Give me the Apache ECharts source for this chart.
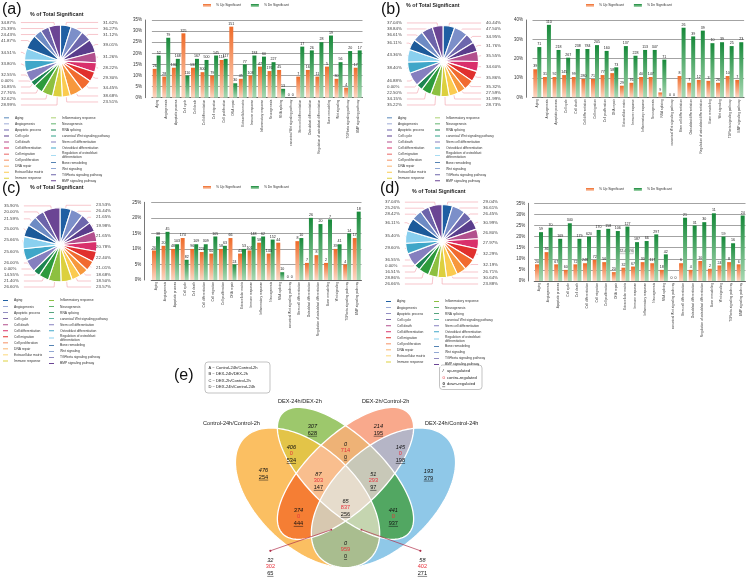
<!DOCTYPE html>
<html><head><meta charset="utf-8">
<script src="https://cdn.jsdelivr.net/npm/echarts@6/dist/echarts.min.js"></script>
<style>html,body{margin:0;padding:0;background:#fff}#c{width:752px;height:579px}</style>
</head><body><div id="c"></div>
<script>
// ---------------- DATA ----------------
const categories = ['Aging','Angiogenesis','Apoptotic process','Cell cycle','Cell death','Cell differentiation','Cell migration','Cell proliferation','DNA repair','Extracellular matrix','Immune response','Inflammatory response','Neurogenesis','RNA splicing','canonical Wnt signaling pathway','Stem cell differentiation','Osteoblast differentiation','Regulation of osteoblast differentiation','Bone remodeling','Wnt signaling','TGFbeta signaling pathway','BMP signaling pathway'];
const seriesNames = ['% Up Significant', '% Dn Significant'];

// panel (a)
const upPctA = [13, 9.5, 13.5, 29, 13.5, 11.5, 10, 17, 32, 8.5, 10, 14, 12, 12.5, 0, 9.5, 12.5, 9.5, 14, 8.5, 4.5, 13.5];
const dnPctA = [19, 27, 17.5, 10, 17.5, 17, 19, 17.5, 6.5, 15, 19, 18.5, 16, 4, 0, 23, 21.3, 25, 28, 16, 21, 21.3];
const upCntA = [26, 28, 130, 325, 137, 300, 79, 114, 151, 45, 103, 47, 176, 45, 0, 7, 16, 11, 5, 30, 4, 17];
const dnCntA = [52, 79, 168, 110, 167, 500, 145, 117, 30, 77, 184, 60, 227, 13, 0, 17, 26, 28, 19, 56, 20, 17];
const pieA = [31.62, 36.27, 31.12, 39.01, 31.26, 28.22, 29.30, 34.45, 38.68, 23.51, 28.99, 32.62, 27.76, 16.85, 0, 32.55, 33.80, 34.51, 41.87, 24.43, 25.39, 34.87];

// panel (b)
const upPctB = [14.5, 10.5, 10.5, 11.5, 10.5, 9.5, 9.5, 11.5, 12.5, 6, 7.5, 10.5, 10.5, 2.5, 0, 11, 7.5, 9, 8.5, 7.5, 11, 9];
const dnPctB = [26, 37.5, 24.5, 20.5, 25, 25, 27, 24, 15.5, 26.5, 21.5, 24.5, 24.5, 19.5, 0, 36, 31.5, 34.5, 28, 28.5, 26.5, 28.5];
const upCntB = [39, 31, 92, 145, 99, 280, 71, 77, 58, 29, 76, 40, 147, 9, 0, 8, 7, 12, 3, 26, 10, 7];
const dnCntB = [71, 110, 218, 267, 238, 784, 205, 160, 73, 137, 228, 113, 347, 71, 0, 26, 39, 39, 10, 39, 25, 23];
const pieB = [40.44, 47.50, 34.95, 31.76, 35.55, 34.60, 35.86, 35.32, 27.59, 31.99, 28.73, 35.22, 34.15, 22.50, 0, 46.88, 38.40, 43.36, 36.11, 36.61, 38.84, 37.04];

// panel (c)
const upPctC = [9.5, 11, 10, 13.5, 10, 9, 8.5, 10, 13.5, 8.5, 9.5, 12, 8.5, 12, 0, 12.5, 5.5, 8, 5.5, 10, 5, 13.5];
const dnPctC = [14, 15.5, 11.5, 6.5, 11.5, 11.5, 14, 11, 5, 10, 14, 14, 13, 2.5, 0, 13.5, 20, 18, 19.5, 11.5, 15, 22];
const upCntC = [26, 20, 48, 174, 96, 226, 60, 58, 66, 43, 101, 58, 144, 44, 0, 8, 7, 8, 2, 39, 4, 17];
const dnCntC = [38, 45, 103, 82, 109, 309, 105, 63, 24, 53, 148, 62, 152, 10, 0, 10, 26, 20, 7, 41, 14, 18];
const pieC = [23.53, 26.44, 21.65, 19.98, 21.65, 20.78, 22.40, 21.01, 18.68, 18.50, 23.57, 26.60, 21.40, 14.55, 0, 26.00, 25.60, 25.66, 25.00, 21.59, 20.00, 35.90];

// panel (d)
const upPctD = [7.5, 13, 7.5, 5, 7.5, 8, 9.5, 8.5, 4, 6, 6.5, 8.5, 8, 5, 0, 8, 5, 9, 5.5, 7, 8.5, 7.5];
const dnPctD = [22, 24, 19, 26, 19, 20, 23, 23.5, 22.5, 24.5, 17.5, 18, 21, 12, 0, 28.5, 25, 26.5, 30.5, 20, 17, 29.5];
const upCntD = [20, 36, 67, 60, 72, 248, 72, 56, 20, 32, 67, 30, 117, 18, 0, 6, 4, 10, 2, 24, 8, 6];
const dnCntD = [59, 70, 169, 340, 179, 620, 170, 158, 106, 127, 187, 66, 297, 42, 0, 21, 31, 30, 11, 59, 16, 24];
const pieD = [29.04, 36.61, 26.45, 30.99, 26.80, 27.97, 32.29, 32.19, 26.71, 30.64, 23.88, 26.66, 28.86, 16.51, 0, 36.55, 29.60, 35.40, 36.11, 28.42, 25.26, 37.04];

// Venn (e): regions A,B,C,D,AB,AC,AD,BC,BD,CD,ABC,ABD,ACD,BCD,ABCD
const vennSetNames = ['Control-24h/Control-2h', 'DEX-24h/DEX-2h', 'DEX-2h/Control-2h', 'DEX-24h/Control-24h'];
const vennRegions = ['A','B','C','D','AB','AC','AD','BC','BD','CD','ABC','ABD','ACD','BCD','ABCD'];
const vennUp     = [476, 307, 214, 193, 406, 374, 0, 0, 441, 145, 87, 58, 32, 51, 65];
const vennContra = [null, null, null, null, 0, 0, 959, 714, 0, 0, 303, 402, 302, 293, 837];
const vennDown   = [254, 628, 195, 379, 534, 444, 0, 0, 937, 198, 147, 271, 65, 97, 256];
const vennLegend = ['A ~ Control-24h/Control-2h', 'B ~ DEX-24h/DEX-2h', 'C ~ DEX-2h/Control-2h', 'D ~ DEX-24h/Control-24h'];
const regLegend = ['up-regulated', 'contra-regulated', 'down-regulated'];

// ---------------- STYLE / LAYOUT ----------------
const font = '"Liberation Sans", Arial, Helvetica, sans-serif';
const pal = ['#1F5FA3','#7C8FC9','#6D67AD','#5A3D8C','#B24F8D','#D9306B','#E0302E','#F16B2F','#F7983C','#FBCB4F','#DCD03E','#8DC040','#2D9B3C','#1C8552','#2FA187','#857FBF','#3FA6C8','#8AD0EF','#1C5A9A','#6D8BC4','#6C64AA','#6B4594'];
const orangeGrad = new echarts.graphic.LinearGradient(0,0,0,1,[{offset:0,color:'#EF6A28'},{offset:1,color:'#FCD8C4'}]);
const greenGrad = new echarts.graphic.LinearGradient(0,0,0,1,[{offset:0,color:'#17893A'},{offset:1,color:'#A9D9B3'}]);

const barLayout = [
  {left:151.9, top:20, width:210.6, height:77.7, max:35, interval:5, offset:7, legLeft:203, legTop:4},
  {left:532.5, top:20, width:211.6, height:77.3, max:40, interval:10, offset:6.5, legLeft:586, legTop:4},
  {left:151.2, top:202.3, width:210.3, height:77.7, max:25, interval:5, offset:7, legLeft:203, legTop:186},
  {left:534.2, top:203.3, width:211.3, height:77.7, max:35, interval:5, offset:6, legLeft:586, legTop:188}
];
const pieLayout = [
  {box:[0,18,119,90], center:[60.5,43], r:36, legL:[2,49], legTop:115.4, title:[30,12.5], tag:[2,2]},
  {box:[386,18,116,90], center:[57,43], r:35.5, legL:[385,433], legTop:115.4, title:[406,3.5], tag:[381,2]},
  {box:[3,202,109,88], center:[57,42.8], r:37, legL:[1,47], legTop:298.1, title:[30,185.5], tag:[2,181]},
  {box:[384,199,115,88], center:[58,42], r:36.5, legL:[384,432], legTop:299.1, title:[412,189], tag:[380,181]}
];
const panelTags = ['(a)','(b)','(c)','(d)'];
const pieData = [pieA, pieB, pieC, pieD];
const barData = [[upPctA,dnPctA,upCntA,dnCntA],[upPctB,dnPctB,upCntB,dnCntB],[upPctC,dnPctC,upCntC,dnCntC],[upPctD,dnPctD,upCntD,dnCntD]];

// Venn geometry (unit coordinates of the hidden Venn grid)
const ellipses = [
  {cx:0.35, cy:0.47, a:0.35, b:0.20, rot:135},
  {cx:0.50, cy:0.57, a:0.35, b:0.15, rot:135},
  {cx:0.50, cy:0.57, a:0.35, b:0.15, rot:45},
  {cx:0.65, cy:0.47, a:0.35, b:0.20, rot:45}
];
const regionColors = {A:'#FBBF62',B:'#9DC86C',C:'#F9A98C',D:'#8FC8E8',AB:'#E3C448',AC:'#F57E34',AD:'#A9BD8F',BC:'#EEB276',BD:'#52A762',CD:'#B5B5C6',ABC:'#F9BE8E',ABD:'#C5D5B0',ACD:'#D7C8B0',BCD:'#C8C8B8',ABCD:'#E6DCCC'};
const labelPos = {A:[0.176,0.569],B:[0.369,0.748],C:[0.630,0.748],D:[0.828,0.565],AB:[0.286,0.650],AC:[0.314,0.393],AD:[0.5,0.258],BC:[0.5,0.663],BD:[0.689,0.393],CD:[0.717,0.650],ABC:[0.393,0.540],ABD:[0.804,0.189],ACD:[0.203,0.189],BCD:[0.610,0.540],ABCD:[0.5,0.430]};
const pointers = [[[0.203,0.254],[0.444,0.340]],[[0.796,0.254],[0.563,0.340]]];

function ellipsePoly(e, n) {
  const th = e.rot*Math.PI/180, c = Math.cos(th), s = Math.sin(th), pts = [];
  for (let i = 0; i < n; i++) {
    const t = 2*Math.PI*i/n, u = e.a*Math.cos(t), v = e.b*Math.sin(t);
    pts.push([e.cx + u*c - v*s, e.cy + u*s + v*c]);
  }
  return pts;
}
const ellPolys = ellipses.map(e => ellipsePoly(e, 160));
function clipPoly(subject, clip) {
  let out = subject;
  for (let i = 0; i < clip.length && out.length; i++) {
    const A = clip[i], B = clip[(i+1)%clip.length];
    const inside = p => (B[0]-A[0])*(p[1]-A[1]) - (B[1]-A[1])*(p[0]-A[0]) >= 0;
    const inter = (P, Q) => {
      const d1x = Q[0]-P[0], d1y = Q[1]-P[1], d2x = B[0]-A[0], d2y = B[1]-A[1];
      const den = d1x*d2y - d1y*d2x;
      const t = ((A[0]-P[0])*d2y - (A[1]-P[1])*d2x)/den;
      return [P[0]+t*d1x, P[1]+t*d1y];
    };
    const inp = out; out = [];
    for (let j = 0; j < inp.length; j++) {
      const P = inp[j], Q = inp[(j+1)%inp.length];
      const pi = inside(P), qi = inside(Q);
      if (pi) { out.push(P); if (!qi) out.push(inter(P,Q)); }
      else if (qi) out.push(inter(P,Q));
    }
  }
  return out;
}
const letterIdx = {A:0,B:1,C:2,D:3};

// ---------------- OPTION ----------------
const grids = [], xAxes = [], yAxes = [], series = [], legends = [], titles = [];

barLayout.forEach((g, gi) => {
  grids.push({left:g.left, top:g.top, width:g.width, height:g.height, containLabel:false});
  xAxes.push({type:'category', gridIndex:gi, data:categories,
    axisTick:{show:false}, axisLine:{lineStyle:{color:'#555', width:0.8}},
    axisLabel:{rotate:90, interval:0, fontSize:3.2, color:'#333', margin:2, fontFamily:font}});
  yAxes.push({type:'value', gridIndex:gi, min:0, max:g.max, interval:g.interval, offset:g.offset,
    axisLine:{show:true, lineStyle:{color:'#555', width:0.8}}, axisTick:{show:false},
    axisLabel:{formatter:'{value}%', fontSize:4.5, color:'#333', margin:3, fontFamily:font},
    splitLine:{lineStyle:{color:'#8C8C8C', width:0.8}}});
  const [up, dn, upC, dnC] = barData[gi];
  series.push({type:'bar', name:seriesNames[0], xAxisIndex:gi, yAxisIndex:gi, data:up,
    barGap:'0%', barCategoryGap:'17%', itemStyle:{color:orangeGrad},
    label:{show:true, position:'top', distance:0.8, fontSize:3.6, color:'#222', fontFamily:font, formatter:p => upC[p.dataIndex]}});
  series.push({type:'bar', name:seriesNames[1], xAxisIndex:gi, yAxisIndex:gi, data:dn,
    barGap:'0%', barCategoryGap:'17%', itemStyle:{color:greenGrad},
    label:{show:true, position:'top', distance:0.8, fontSize:3.6, color:'#222', fontFamily:font, formatter:p => dnC[p.dataIndex]}});
  legends.push({data:seriesNames, left:g.legLeft, top:g.legTop, padding:0, itemWidth:8, itemHeight:3, itemGap:10, icon:'rect',
    textStyle:{fontSize:3.4, color:'#333', fontFamily:font}});
});

pieLayout.forEach((p, pi) => {
  series.push({type:'pie', name:'pie'+pi, left:p.box[0], top:p.box[1], width:p.box[2], height:p.box[3],
    center:p.center, radius:[3, p.r], startAngle:90, clockwise:true, avoidLabelOverlap:true,
    data:categories.map((n, i) => ({name:n, value:pieData[pi][i], itemStyle:{color:pal[i]}})),
    itemStyle:{borderColor:'#fff', borderWidth:1.1},
    label:{show:true, position:'outside', alignTo:'edge', edgeDistance:1, fontSize:4.4, color:'#444', fontFamily:font,
      width:18, overflow:'none', formatter:q => q.value.toFixed(2) + '%'},
    labelLine:{show:true, length:3, length2:3, lineStyle:{color:'#F2A0AA', width:0.6}},
    emphasis:{disabled:true}});
  const legCommon = {orient:'vertical', top:p.legTop, padding:0, itemWidth:7, itemHeight:2.9, itemGap:1.14, icon:'rect',
    textStyle:{fontSize:3.3, lineHeight:3.7, color:'#333', fontFamily:font},
    formatter:n => n === 'Regulation of osteoblast differentiation' ? 'Regulation of osteoblast\ndifferentiation' : n};
  legends.push(Object.assign({left:p.legL[0], data:categories.slice(0,11)}, legCommon));
  legends.push(Object.assign({left:p.legL[1], data:categories.slice(11)}, legCommon));
  titles.push({text:panelTags[pi], left:p.tag[0], top:p.tag[1], padding:0, textStyle:{fontSize:16, fontWeight:'normal', color:'#111', fontFamily:font}});
  titles.push({text:'% of Total Significant', left:p.title[0], top:p.title[1], padding:0, textStyle:{fontSize:5.3, fontWeight:'bold', color:'#222', fontFamily:font}});
});
titles.push({text:'(e)', left:174, top:368, padding:0, textStyle:{fontSize:16, fontWeight:'normal', color:'#111', fontFamily:font}});

// Venn hidden grid (kept inside the canvas: y range 0.184..1 over 200 px)
grids.push({left:219, top:368, width:253, height:200});
xAxes.push({type:'value', gridIndex:4, min:0, max:1, show:false});
yAxes.push({type:'value', gridIndex:4, min:0.1837, max:1, show:false});

series.push({type:'custom', name:'venn-regions', coordinateSystem:'cartesian2d', xAxisIndex:4, yAxisIndex:4, silent:true, z:2, clip:false,
  data:vennRegions.map(() => [0.5, 0.5]),
  renderItem:(params, api) => {
    const key = vennRegions[params.dataIndex];
    const ids = key.split('').map(ch => letterIdx[ch]);
    let poly = ellPolys[ids[0]];
    for (let k = 1; k < ids.length; k++) poly = clipPoly(poly, ellPolys[ids[k]]);
    return {type:'polygon', z2:ids.length, shape:{points:poly.map(q => api.coord(q))}, style:{fill:regionColors[key], stroke:null}};
  }});
series.push({type:'custom', name:'venn-outlines', coordinateSystem:'cartesian2d', xAxisIndex:4, yAxisIndex:4, silent:true, z:3, clip:false,
  data:ellipses.map(() => [0.5, 0.5]),
  renderItem:(params, api) => ({type:'polygon', shape:{points:ellPolys[params.dataIndex].map(q => api.coord(q))},
    style:{fill:'none', stroke:'#fff', lineWidth:1.3}})});
series.push({type:'custom', name:'venn-pointers', coordinateSystem:'cartesian2d', xAxisIndex:4, yAxisIndex:4, silent:true, z:4, clip:false,
  data:pointers.map(() => [0.5, 0.5]),
  renderItem:(params, api) => {
    const pr = pointers[params.dataIndex], a = api.coord(pr[0]), b = api.coord(pr[1]);
    return {type:'group', children:[
      {type:'line', shape:{x1:a[0], y1:a[1], x2:b[0], y2:b[1]}, style:{stroke:'#B02F4B', lineWidth:0.7}},
      {type:'circle', shape:{cx:a[0], cy:a[1], r:1.1}, style:{fill:'#B02F4B'}},
      {type:'circle', shape:{cx:b[0], cy:b[1], r:0.9}, style:{fill:'#B02F4B'}}
    ]};
  }});
const vfs = 5.6;
function vtxt(x, y, s, color, fstyle) {
  return {type:'text', x:x, y:y, style:{text:s, fill:color, fontSize:vfs, fontFamily:font, fontStyle:fstyle,
    align:'center', verticalAlign:'middle', textAlign:'center', textVerticalAlign:'middle'}};
}
series.push({type:'custom', name:'venn-labels', coordinateSystem:'cartesian2d', xAxisIndex:4, yAxisIndex:4, silent:true, z:5, clip:false,
  data:vennRegions.map(() => [0.5, 0.5]),
  renderItem:(params, api) => {
    const i = params.dataIndex, key = vennRegions[i];
    const p = api.coord(labelPos[key]);
    const hasC = vennContra[i] !== null;
    const offs = hasC ? [-6.6, 0, 6.6] : [-3.4, 3.4];
    const ch = [vtxt(p[0], p[1]+offs[0], String(vennUp[i]), '#111', 'italic')];
    if (hasC) ch.push(vtxt(p[0], p[1]+offs[1], String(vennContra[i]), '#E8323C', 'normal'));
    const dy = offs[offs.length-1], ds = String(vennDown[i]);
    ch.push(vtxt(p[0], p[1]+dy, ds, '#111', 'normal'));
    const w = ds.length*vfs*0.56;
    ch.push({type:'line', shape:{x1:p[0]-w/2, y1:p[1]+dy+vfs*0.55, x2:p[0]+w/2, y2:p[1]+dy+vfs*0.55}, style:{stroke:'#111', lineWidth:0.5}});
    return {type:'group', children:ch};
  }});

// static decorations (set names, legend boxes, stray value box)
const gtext = (x, y, s, size, color, extra) => ({type:'text', x:x, y:y, silent:true,
  style:Object.assign({text:s, fill:color||'#222', fontSize:size, fontFamily:font, verticalAlign:'middle', textVerticalAlign:'middle'}, extra||{})});
const graphics = [];
const setNamePos = [[203,423],[278,401],[362,401],[425,423]];
vennSetNames.forEach((n, i) => graphics.push(gtext(setNamePos[i][0], setNamePos[i][1], n, 5.6, '#222')));
graphics.push({type:'rect', silent:true, shape:{x:205, y:362, width:65, height:31, r:3}, style:{fill:'#fff', stroke:'#9A9A9A', lineWidth:0.6}});
vennLegend.forEach((t, i) => graphics.push(gtext(208.5, 367.8 + i*6.4, t, 4.1, '#222')));
graphics.push({type:'rect', silent:true, shape:{x:439.5, y:365, width:42.5, height:24.5, r:3}, style:{fill:'#fff', stroke:'#9A9A9A', lineWidth:0.6}});
const markStyles = [{fill:'#222', fontStyle:'italic'}, {fill:'#E8323C'}, {fill:'#222', fontWeight:'bold'}];
const markChars = ['/', '0', '0'];
regLegend.forEach((t, i) => {
  graphics.push(gtext(442.5, 371 + i*6.6, markChars[i], 4.4, markStyles[i].fill, markStyles[i]));
  graphics.push(gtext(447, 371 + i*6.6, t, 4.1, '#222'));
});
graphics.push({type:'line', silent:true, shape:{x1:442.2, y1:386.7, x2:445.2, y2:386.7}, style:{stroke:'#222', lineWidth:0.5}});
graphics.push({type:'rect', silent:true, shape:{x:619.3, y:247.7, width:14, height:6}, style:{fill:'#F2F2F2', stroke:'#A0A0A0', lineWidth:0.5}});
graphics.push(gtext(626.3, 250.8, '22.425%', 3.6, '#333', {align:'center', textAlign:'center'}));

const option = {
  animation:false,
  backgroundColor:'#fff',
  textStyle:{fontFamily:font},
  title:titles,
  grid:grids, xAxis:xAxes, yAxis:yAxes,
  legend:legends,
  series:series,
  graphic:graphics
};
const chart = echarts.init(document.getElementById('c'), null, {renderer:'canvas'});
chart.setOption(option);
</script></body></html>
